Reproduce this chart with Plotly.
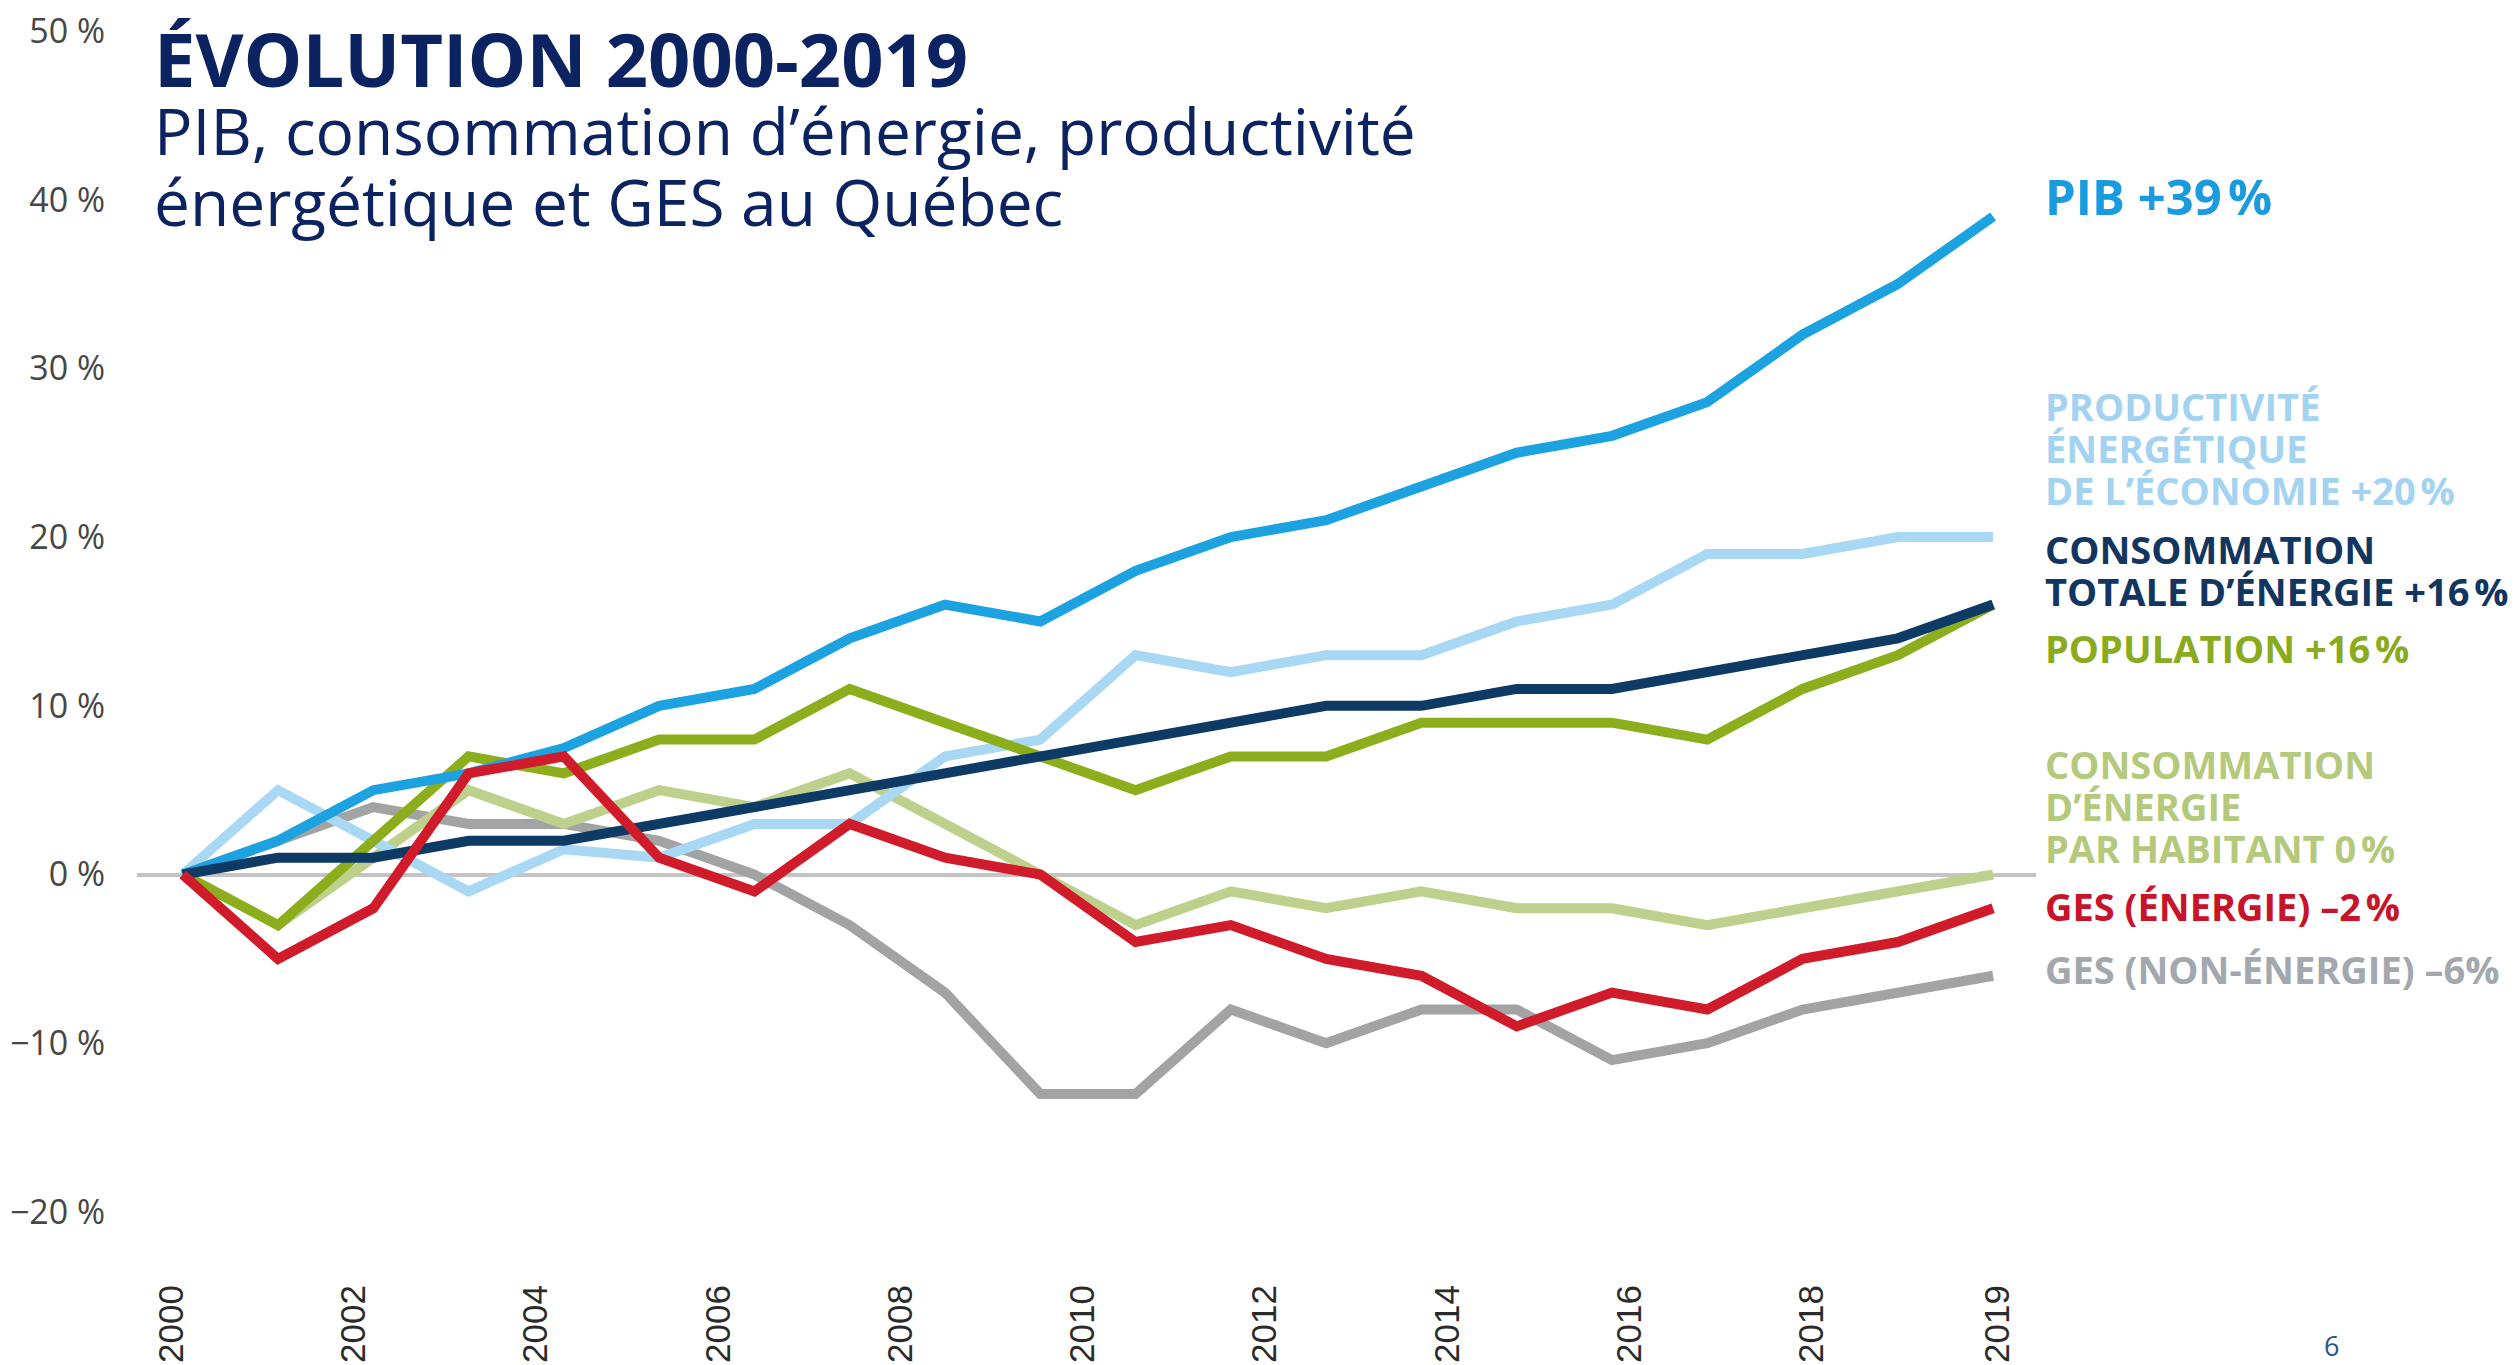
import plotly.graph_objects as go

# ---------------- data ----------------
YEARS = list(range(2000, 2020))
PIB = [0, 2, 5, 6, 7.5, 10, 11, 14, 16, 15, 18, 20, 21, 23, 25, 26, 28, 32, 35, 39]
PRODUCTIVITE = [0, 5, 2, -1, 1.5, 1, 3, 3, 7, 8, 13, 12, 13, 13, 15, 16, 19, 19, 20, 20]
CONSO_TOTALE = [0, 1, 1, 2, 2, 3, 4, 5, 6, 7, 8, 9, 10, 10, 11, 11, 12, 13, 14, 16]
POPULATION = [0, -3, 2, 7, 6, 8, 8, 11, 9, 7, 5, 7, 7, 9, 9, 9, 8, 11, 13, 16]
CONSO_HABITANT = [0, -3, 1, 5, 3, 5, 4, 6, 3, 0, -3, -1, -2, -1, -2, -2, -3, -2, -1, 0]
GES_ENERGIE = [0, -5, -2, 6, 7, 1, -1, 3, 1, 0, -4, -3, -5, -6, -9, -7, -8, -5, -4, -2]
GES_NON_ENERGIE = [0, 2, 4, 3, 3, 2, 0, -3, -7, -13, -13, -8, -10, -8, -8, -11, -10, -8, -7, -6]

Y_TICK_VALUES = [-20, -10, 0, 10, 20, 30, 40, 50]
Y_TICK_LABELS = ["\u221220\u00a0%", "\u221210\u00a0%", "0\u00a0%", "10\u00a0%", "20\u00a0%",
                 "30\u00a0%", "40\u00a0%", "50\u00a0%"]
X_TICK_LABELS = ["2000", "2002", "2004", "2006", "2008", "2010", "2012", "2014",
                 "2016", "2018", "2019"]

TITLE = "ÉVOLUTION 2000-2019"
SUBTITLE_LINES = ["PIB, consommation d’énergie, productivité",
                  "énergétique et GES au Québec"]

# series: (values, label lines, line colour, text colour)
SERIES = [
    (GES_NON_ENERGIE, ["GES (NON-ÉNERGIE) –6%"], "#a3a3a3", "#a2a8ae"),
    (CONSO_HABITANT, ["CONSOMMATION", "D’ÉNERGIE", "PAR HABITANT 0\u202f%"], "#bdd08c", "#b4c97c"),
    (PRODUCTIVITE, ["PRODUCTIVITÉ", "ÉNERGÉTIQUE", "DE L’ÉCONOMIE +20\u202f%"], "#a9d8f4", "#a3d3f0"),
    (POPULATION, ["POPULATION +16\u202f%"], "#8cae1c", "#8aab1e"),
    (PIB, ["PIB +39\u202f%"], "#1ca2e1", "#1a9be0"),
    (CONSO_TOTALE, ["CONSOMMATION", "TOTALE D’ÉNERGIE +16\u202f%"], "#0e3a66", "#12365f"),
    (GES_ENERGIE, ["GES (ÉNERGIE) –2\u202f%"], "#cf1b2a", "#c8142a"),
]

# ---------------- layout geometry (pixels) ----------------
W, H = 2517, 1365
PLOT_L, PLOT_R, PLOT_T, PLOT_B = 129, 2028, 6, 1258


def px(x):
    return (x - PLOT_L) / (PLOT_R - PLOT_L)


def py(y):
    return (PLOT_B - y) / (PLOT_B - PLOT_T)


fig = go.Figure()
for values, label, lc, tc in SERIES:
    fig.add_trace(go.Scatter(
        x=YEARS, y=values, mode="lines",
        line=dict(color=lc, width=10),
        name=" ".join(label), showlegend=False, hoverinfo="x+y"))

# x tick labels in the reference are spaced slightly tighter than the data years
label_step = 1.913
tick_pos = [1999.88 + i * label_step for i in range(len(X_TICK_LABELS) - 1)] + [2019.05]

fig.update_layout(
    width=W, height=H,
    margin=dict(l=PLOT_L, r=W - PLOT_R, t=PLOT_T, b=H - PLOT_B, pad=0, autoexpand=False),
    paper_bgcolor="white", plot_bgcolor="white",
    xaxis=dict(range=[1999.52, 2019.45], showgrid=False, zeroline=False, showline=False,
               automargin=False,
               tickmode="array", tickvals=tick_pos, ticktext=X_TICK_LABELS,
               tickangle=-90, ticks="outside", ticklen=4, tickcolor="rgba(0,0,0,0)",
               tickfont=dict(family="Liberation Sans, Arial", size=35, color="#2b2b2b")),
    yaxis=dict(range=[-23.2, 51], showgrid=False, showline=False, automargin=False,
               zeroline=True, zerolinecolor="#c4c4c4", zerolinewidth=4,
               tickmode="array", tickvals=Y_TICK_VALUES, ticktext=Y_TICK_LABELS,
               ticklabeloverflow="allow",
               ticks="outside", ticklen=24, tickcolor="rgba(0,0,0,0)",
               tickfont=dict(family="Open Sans", size=34, color="#474747")),
)

annotations = []
NAVY = "#0c2361"
annotations.append(dict(text=TITLE, x=px(144), y=py(51), xref="paper", yref="paper",
                        xanchor="left", yanchor="middle", showarrow=False,
                        font=dict(family="Open Sans", size=74, color=NAVY, weight=700)))
for i, line in enumerate(SUBTITLE_LINES):
    annotations.append(dict(text=line, x=px(144), y=py(123 + i * 71), xref="paper", yref="paper",
                            xanchor="left", yanchor="middle", showarrow=False,
                            font=dict(family="Open Sans", size=64, color=NAVY)))

# right-hand series labels: first-line centre (px)
first_line_y = [961, 756, 398, 640, 188, 541, 898]
line_h = 42
for (values, label, lc, tc), y0 in zip(SERIES, first_line_y):
    size = 49 if label[0].startswith("PIB") else 38
    for j, line in enumerate(label):
        annotations.append(dict(text=line, x=px(2035), y=py(y0 + j * line_h),
                                xref="paper", yref="paper", xanchor="left", yanchor="middle",
                                showarrow=False,
                                font=dict(family="Open Sans", size=size, color=tc, weight=700)))

annotations.append(dict(text="6", x=px(2323), y=py(1337), xref="paper", yref="paper",
                        xanchor="center", yanchor="middle", showarrow=False,
                        font=dict(family="Open Sans", size=27, color="#2d5486")))

fig.update_layout(annotations=annotations)
fig.write_html("out.html")
